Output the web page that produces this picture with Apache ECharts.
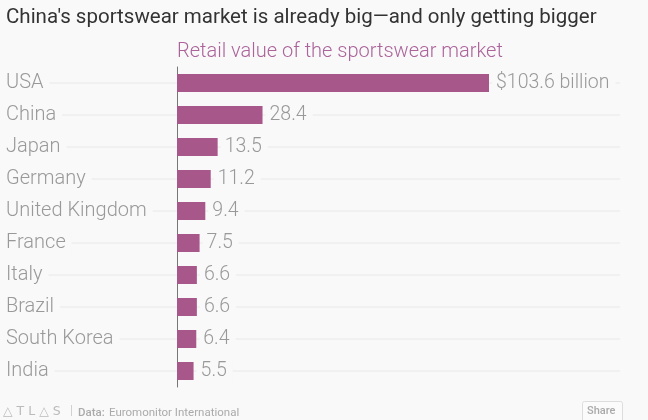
<!DOCTYPE html>
<html>
<head>
<meta charset="utf-8">
<script src="https://cdn.jsdelivr.net/npm/echarts@6/dist/echarts.min.js"></script>
<style>
  html, body { margin: 0; padding: 0; background: #f9f9f9; }
  #chart-container { width: 648px; height: 420px; }
</style>
</head>
<body>
<div id="chart-container"></div>
<script>
// data (US$ billion)
var countries = ["USA", "China", "Japan", "Germany", "United Kingdom", "France", "Italy", "Brazil", "South Korea", "India"];
var retailValue = [103.6, 28.4, 13.5, 11.2, 9.4, 7.5, 6.6, 6.6, 6.4, 5.5];
var valueLabels = ["$103.6 billion", "28.4", "13.5", "11.2", "9.4", "7.5", "6.6", "6.6", "6.4", "5.5"];

var bg = "#f9f9f9";
var barColor = "#a8578a";
var textGray = "#999999";
var font = "Roboto";

var dom = document.getElementById("chart-container");
var myChart = echarts.init(dom, null, { renderer: "canvas" });

var option = {
  backgroundColor: bg,
  animation: false,
  title: [
    {
      text: "China's sportswear market is already big\u2014and only getting bigger",
      left: 1,
      top: 2,
      textStyle: { fontFamily: font, fontSize: 20.5, fontWeight: "normal", color: "#333333" }
    },
    {
      text: "Retail value of the sportswear market",
      left: 172,
      top: 37,
      textStyle: { fontFamily: font, fontSize: 20, fontWeight: 300, color: "#ab639a" }
    }
  ],
  grid: { left: 177, right: 159, top: 67, bottom: 33 },
  xAxis: {
    type: "value",
    min: 0,
    max: 103.6,
    show: false
  },
  yAxis: {
    type: "category",
    inverse: true,
    data: countries,
    axisTick: { show: false },
    axisLine: { show: true, lineStyle: { color: "#777777", width: 1 } },
    axisLabel: {
      align: "left",
      margin: 171,
      fontFamily: font,
      fontSize: 20,
      fontWeight: 300,
      color: textGray,
      backgroundColor: bg,
      padding: [3, 6, 1, 0]
    }
  },
  series: [
    {
      // faint row guides behind labels and bars
      type: "custom",
      z: -1,
      silent: true,
      clip: false,
      data: countries.map(function (c, i) { return i; }),
      renderItem: function (params, api) {
        var y = api.coord([0, api.value(0)])[1];
        return {
          type: "line",
          shape: { x1: 6, y1: y, x2: 620, y2: y },
          style: { stroke: "#e8e8e8", lineWidth: 1 }
        };
      }
    },
    {
      type: "bar",
      data: retailValue,
      barWidth: 18,
      itemStyle: { color: barColor },
      label: {
        show: true,
        position: "right",
        distance: 3,
        fontFamily: font,
        fontSize: 19.5,
        fontWeight: 300,
        color: textGray,
        backgroundColor: bg,
        padding: [3, 6, 1, 4],
        formatter: function (p) { return valueLabels[p.dataIndex]; }
      }
    }
  ],
  graphic: [
    {
      type: "text",
      left: 3,
      top: 405,
      style: { text: "\u25B3 T L \u25B3 S", font: "12.5px 'DejaVu Sans'", fill: "#bbbbbb" }
    },
    {
      type: "text",
      left: 70,
      top: 405,
      style: { text: "|", font: "12px Roboto", fill: "#cccccc" }
    },
    {
      type: "text",
      left: 78,
      top: 407,
      style: { text: "Data:", font: "500 11.5px Roboto", fill: "#aaaaaa" }
    },
    {
      type: "text",
      left: 109,
      top: 407,
      style: { text: "Euromonitor International", font: "11.5px Roboto", fill: "#aaaaaa" }
    },
    {
      type: "rect",
      shape: { x: 582.5, y: 401.5, width: 40, height: 24, r: 2 },
      style: { fill: "#fbfbfb", stroke: "#dddddd", lineWidth: 1 }
    },
    {
      type: "text",
      left: 587,
      top: 406,
      style: { text: "Share", font: "500 11px Roboto", fill: "#aaaaaa" }
    }
  ]
};

myChart.setOption(option);
</script>
</body>
</html>
